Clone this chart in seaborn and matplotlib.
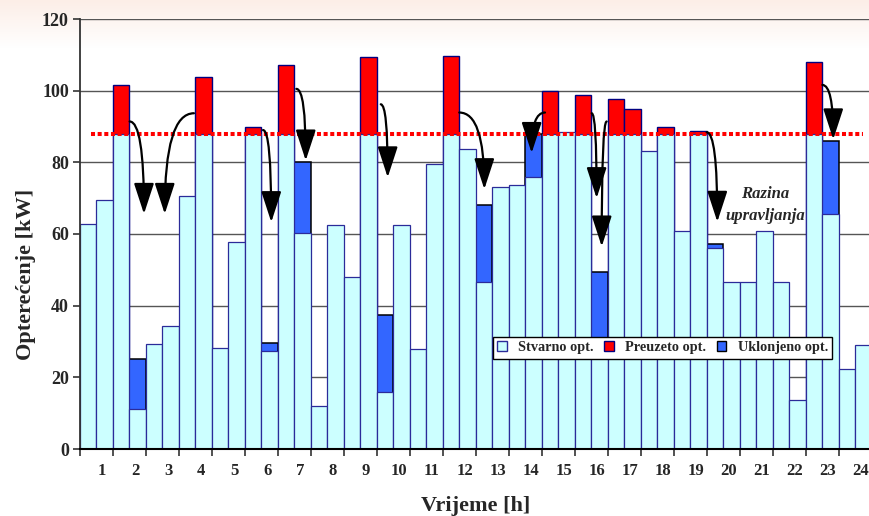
import numpy as np
import pandas as pd
import matplotlib
matplotlib.use("Agg")
import matplotlib.pyplot as plt
from matplotlib.patches import Patch, FancyArrowPatch
import seaborn as sns

# Load per half-hour interval (48 intervals over 24 h), values in kW
interval = list(range(48))
stvarno = [62.8, 69.5, 87.8, 11.3, 29.4, 34.4, 70.6, 87.8, 28.3, 57.7,
           87.8, 27.4, 87.8, 60.4, 12.1, 62.4, 47.9, 87.8, 15.8, 62.4,
           28.0, 79.4, 87.8, 83.8, 46.5, 73.1, 73.6, 76.0, 87.8, 88.4,
           87.8, 28.0, 87.8, 87.8, 83.2, 87.8, 60.7, 87.8, 56.0, 46.7,
           46.5, 60.8, 46.5, 13.6, 87.8, 65.7, 22.3, 29.1]
# top of the load taken over above the control level (0 = none)
preuzeto = [0, 0, 101.5, 0, 0, 0, 0, 103.8, 0, 0,
            89.9, 0, 107.2, 0, 0, 0, 0, 109.4, 0, 0,
            0, 0, 109.7, 0, 0, 0, 0, 0, 99.9, 0,
            98.7, 0, 97.7, 94.9, 0, 90.0, 0, 88.7, 0, 0,
            0, 0, 0, 0, 107.9, 0, 0, 0]
# top of the shifted load (0 = none)
uklonjeno = [0, 0, 0, 25.0, 0, 0, 0, 0, 0, 0,
             0, 29.6, 0, 80.0, 0, 0, 0, 0, 37.5, 0,
             0, 0, 0, 0, 68.2, 0, 0, 87.8, 0, 0,
             0, 49.3, 0, 0, 0, 0, 0, 0, 57.1, 0,
             0, 0, 0, 0, 0, 86.0, 0, 0]
razina = 87.8
hours = [str(h) for h in range(1, 25)]

# arrows: (start interval, start kW, end interval, end kW)
arrows = [
    (2.51, 91.4, 3.38, 65.6),
    (6.41, 93.7, 4.64, 65.6),
    (10.60, 89.0, 11.10, 63.3),
    (12.62, 100.5, 13.19, 80.5),
    (17.74, 96.2, 18.16, 75.8),
    (22.50, 93.9, 24.02, 72.5),
    (27.70, 93.9, 26.89, 82.6),
    (30.53, 93.7, 30.83, 70.0),
    (31.44, 91.4, 31.14, 56.5),
    (37.50, 88.4, 38.15, 63.4),
    (44.52, 101.6, 45.18, 86.4),
]

df = pd.DataFrame({"interval": interval, "stvarno": stvarno,
                   "preuzeto": preuzeto, "uklonjeno": uklonjeno})

CYAN = "#ccffff"
RED = "#ff0000"
BLUE = "#3366ff"
NAVY = "#2b2b99"

sns.set_theme(style="white")
plt.rcParams["font.family"] = ["Liberation Serif", "DejaVu Serif"]
plt.rcParams["font.weight"] = "bold"

fig = plt.figure(figsize=(8.69, 5.16), dpi=100)

# soft warm band along the top edge of the figure
bg = fig.add_axes([0, 0, 1, 1], zorder=-5)
H = 516
grad = np.ones((H, 1, 3))
top = np.array([252, 238, 231]) / 255.0
fade = 48
for r in range(fade):
    t = r / fade
    grad[r, 0, :] = top * (1 - t) + np.ones(3) * t
bg.imshow(grad, aspect="auto", extent=[0, 1, 0, 1], origin="upper")
bg.axis("off")

ax = fig.add_axes([80 / 869, 1 - 449 / 516, 791.5 / 869, 430 / 516])
ax.set_facecolor("none")

common = dict(data=df, x="interval", width=1.0, saturation=1,
              errorbar=None, ax=ax)
sns.barplot(y="preuzeto", color=RED, edgecolor="#000080", linewidth=1.0,
            zorder=2, **common)
sns.barplot(y="uklonjeno", color=BLUE, edgecolor="black", linewidth=1.1,
            zorder=2, **common)
sns.barplot(y="stvarno", color=CYAN, edgecolor=NAVY, linewidth=0.9,
            zorder=3, **common)

# control level
ax.plot([0.17, 47.0], [razina, razina], color=RED, lw=2.9,
        linestyle=(0, (1.0, 0.65)), zorder=5, solid_capstyle="butt")

for x0, y0, x1, y1 in arrows:
    arr = FancyArrowPatch((x0, y0), (x1, y1),
                          connectionstyle="angle3,angleA=0,angleB=90",
                          arrowstyle="-|>,head_length=1.9,head_width=0.62",
                          mutation_scale=10, color="black", lw=1.6,
                          shrinkA=0, shrinkB=0, zorder=6)
    ax.add_patch(arr)

ax.text(41.04, 71.2, "Razina", ha="center", va="center", fontsize=12,
        style="italic", fontweight="bold", zorder=6)
ax.text(41.04, 65.1, "upravljanja", ha="center", va="center", fontsize=12,
        style="italic", fontweight="bold", zorder=6)

ax.set_xlim(-0.5, 47.5)
ax.set_ylim(0, 120)
ax.set_yticks(range(0, 121, 20))
ax.yaxis.grid(True, color="#555555", lw=1.0)
ax.xaxis.grid(False)
ax.set_axisbelow(True)

ax.set_xticks(np.arange(-0.5, 48, 2))
ax.set_xticklabels([])
ax.set_xticks(np.arange(1, 48, 2) - 0.15, minor=True)
ax.set_xticklabels(hours, minor=True)
ax.tick_params(axis="x", which="major", length=5, width=1.2, color="#333333",
               direction="out", bottom=True)
ax.tick_params(axis="x", which="minor", length=0, pad=10, labelsize=12)
ax.tick_params(axis="y", which="major", length=5, width=1.2, color="#333333",
               direction="out", left=True, pad=3, labelsize=13)
for lbl in ax.get_xticklabels(minor=True) + ax.get_yticklabels():
    lbl.set_fontweight("bold")

for side in ("top", "right"):
    ax.spines[side].set_visible(False)
ax.spines["left"].set_color("#333333")
ax.spines["left"].set_linewidth(1.3)
ax.spines["bottom"].set_color("black")
ax.spines["bottom"].set_linewidth(1.5)
ax.spines["left"].set_zorder(4)
ax.spines["bottom"].set_zorder(4)

ax.set_xlabel("Vrijeme [h]", fontsize=16, fontweight="bold", labelpad=12)
ax.set_ylabel("Opterećenje [kW]", fontsize=16, fontweight="bold")
ax.yaxis.set_label_coords(-0.055, 0.405)

handles = [Patch(facecolor=CYAN, edgecolor=NAVY, lw=1.0, label="Stvarno opt."),
           Patch(facecolor=RED, edgecolor="#000080", lw=1.0, label="Preuzeto opt."),
           Patch(facecolor=BLUE, edgecolor="black", lw=1.0, label="Uklonjeno opt.")]
leg = ax.legend(handles=handles, loc="upper left", bbox_to_anchor=(0.522, 0.2605),
                borderaxespad=0, ncol=3, frameon=True, fancybox=False,
                framealpha=1, edgecolor="black", borderpad=0.3,
                handlelength=0.65, handleheight=0.65, handletextpad=0.8,
                columnspacing=0.75, prop={"family": "Liberation Serif",
                                          "weight": "bold", "size": 10.3})
leg.get_frame().set_linewidth(1.0)
leg.set_zorder(10)

fig.savefig("out.png", dpi=100)
